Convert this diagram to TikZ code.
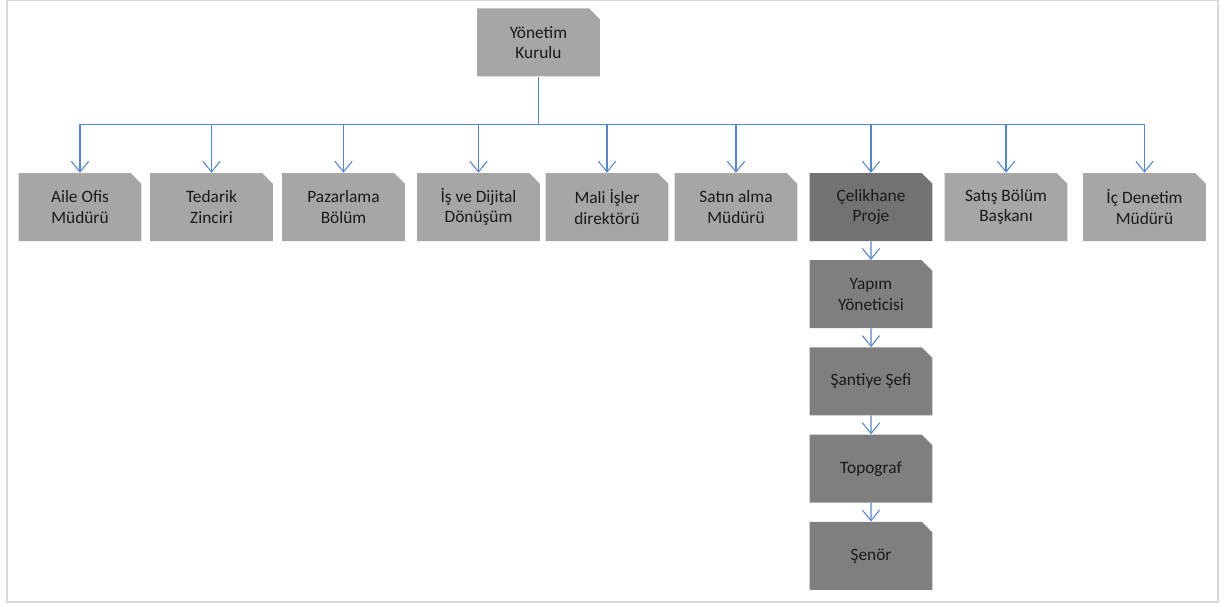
\documentclass[tikz,border=0pt]{standalone}
\usepackage{fontspec}
\setmainfont{Carlito}
\usetikzlibrary{shapes.misc,arrows.meta,positioning}
\definecolor{boxlight}{HTML}{A6A6A6}
\definecolor{boxdark}{HTML}{7F7F7F}
\definecolor{boxdeep}{HTML}{727272}
\definecolor{linkblue}{HTML}{5585C8}
\definecolor{framegray}{HTML}{D9D9D9}
\definecolor{textgray}{HTML}{1A1A1A}

\begin{document}
\begin{tikzpicture}[x=0.75pt,y=-0.75pt,
    unit/.style={chamfered rectangle,chamfered rectangle corners=north east,
        chamfered rectangle xsep=4pt,chamfered rectangle ysep=4pt,
        fill=boxlight,draw=none,minimum width=92pt,minimum height=51pt,
        inner sep=0pt,align=center,text=textgray,
        font=\fontsize{13}{15.5}\selectfont},
    chain/.style={unit,fill=boxdark},
    link/.style={draw=linkblue,line width=0.8pt},
    arrow/.style={link,-{Straight Barb[length=8pt,width=13pt]}},
    node distance=14pt]

    % frame
    \useasboundingbox (0,0) rectangle (1226,606);
    \draw[framegray,line width=1.5pt] (6.5,0.5) rectangle (1218,602);

    % board
    \node[unit] (board) at (538.5,42.5) {Yönetim\\Kurulu};

    % departments
    \node[unit] (aile)   at (80,207)    {Aile Ofis\\Müdürü};
    \node[unit] (tedarik) at (211.5,207) {Tedarik\\Zinciri};
    \node[unit] (pazar)  at (343.5,207) {Pazarlama\\Bölüm};
    \node[unit] (dijital) at (478.5,207) {İş ve Dijital\\Dönüşüm};
    \node[unit] (mali)   at (607,207)   {Mali İşler\\direktörü};
    \node[unit] (satin)  at (736,207)   {Satın alma\\Müdürü};
    \node[unit,fill=boxdeep] (celik) at (871,207) {Çelikhane\\Proje};
    \node[unit] (satis)  at (1006,207)  {Satış Bölüm\\Başkanı};
    \node[unit] (icden)  at (1144.5,207) {İç Denetim\\Müdürü};

    % project chain
    \node[chain,below=of celik] (yapim) {Yapım\\Yöneticisi};
    \node[chain,below=of yapim] (santiye) {Şantiye Şefi};
    \node[chain,below=of santiye] (topo) {Topograf};
    \node[chain,below=of topo] (senor) {Şenör};

    % links
    \coordinate (bus) at (board.south |- 0,124.5);
    \draw[link] (board.south) -- (bus);
    \draw[link] (bus -| aile.north) -- (bus -| icden.north);
    \foreach \n in {aile,tedarik,pazar,dijital,mali,satin,celik,satis,icden}
        \draw[arrow] (bus -| \n.north) -- (\n.north);
    \draw[arrow] (celik) -- (yapim);
    \draw[arrow] (yapim) -- (santiye);
    \draw[arrow] (santiye) -- (topo);
    \draw[arrow] (topo) -- (senor);
\end{tikzpicture}
\end{document}
